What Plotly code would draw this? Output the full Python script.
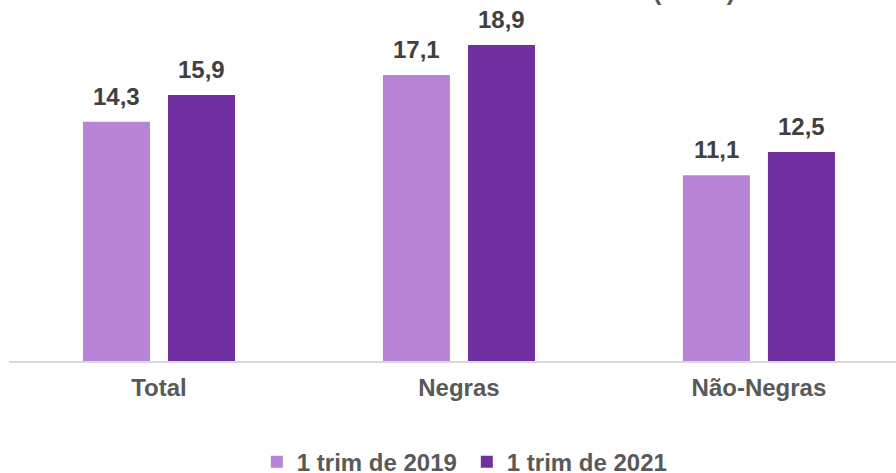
import plotly.graph_objects as go

categories = ["Total", "Negras", "Não-Negras"]
series_names = ["1 trim de 2019", "1 trim de 2021"]
values_2019 = [14.3, 17.1, 11.1]
values_2021 = [15.9, 18.9, 12.5]
title_fragment = "(em %)"

colors = ["#B784D6", "#7030A0"]
FONT = "Liberation Sans, Arial, sans-serif"

fig = go.Figure()
for name, vals, col in zip(series_names, [values_2019, values_2021], colors):
    fig.add_trace(go.Bar(
        x=categories, y=vals, name=name,
        marker=dict(color=col, line=dict(width=0)),
    ))

def fmt(v):
    return f"{v:.1f}".replace(".", ",")

offsets = [-42.5, 42.5]
for vals, xs in zip([values_2019, values_2021], offsets):
    for c, v in zip(categories, vals):
        fig.add_annotation(
            x=c, y=v, xref="x", yref="y", text=fmt(v), showarrow=False,
            xshift=xs, yanchor="bottom", yshift=10,
            font=dict(family=FONT, size=24, color="#404040", weight="bold"),
        )

fig.add_annotation(
    x=(694 - 9) / 887, xref="paper", y=1, yref="paper", text=title_fragment,
    showarrow=False, xanchor="center", yanchor="bottom", yshift=13,
    font=dict(family=FONT, size=25, color="#595959", weight="bold"),
)

fig.update_layout(
    width=896, height=473,
    margin=dict(l=9, r=0, t=20, b=112),
    paper_bgcolor="white", plot_bgcolor="white",
    barmode="group", bargap=0.433, bargroupgap=0.212,
    showlegend=True,
    legend=dict(
        orientation="h", x=0.521, xanchor="center", xref="container",
        y=0.023, yanchor="middle", yref="container",
        font=dict(family=FONT, size=24, color="#595959", weight="bold"),
        itemwidth=30, traceorder="normal", entrywidth=165,
    ),
    xaxis=dict(
        type="category", range=[-0.5, 2.457],
        showline=True, linecolor="#D9D9D9", linewidth=1.5,
        showgrid=False, ticks="", ticklabelstandoff=4,
        tickfont=dict(family=FONT, size=24, color="#595959", weight="bold"),
    ),
    yaxis=dict(
        range=[0, 20.39], visible=False, showgrid=False, zeroline=False,
    ),
)

fig.write_html("out.html", config={"displayModeBar": False},
               post_script="document.body.style.margin='0';")
